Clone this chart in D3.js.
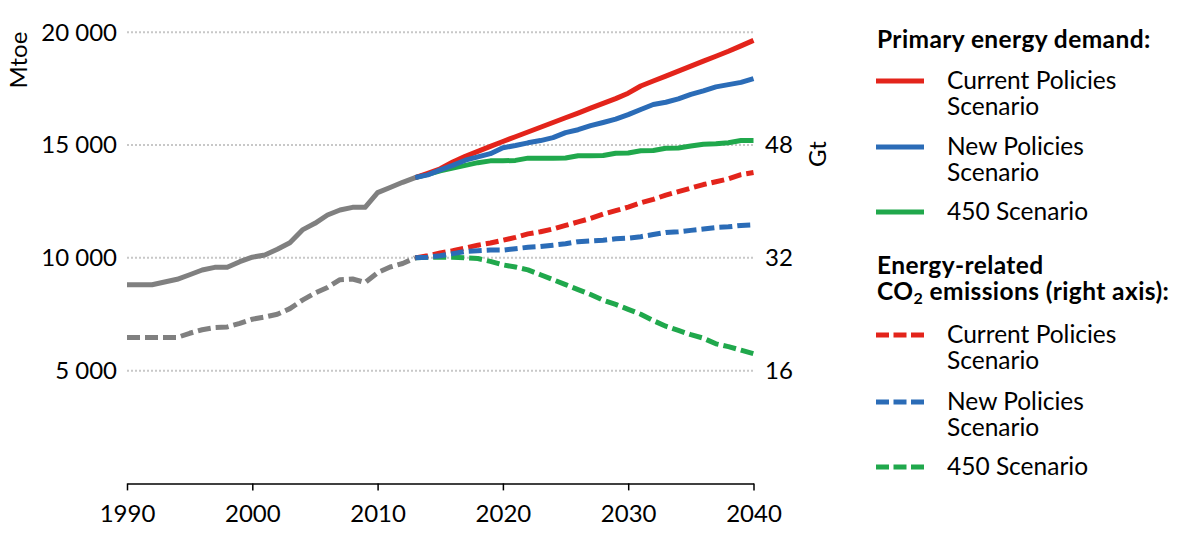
<!DOCTYPE html>
<html>
<head>
<meta charset="utf-8">
<script src="https://cdn.jsdelivr.net/npm/d3@7"></script>
<style>
  html, body { margin: 0; padding: 0; background: #fff; }
  svg { display: block; }
  text { font-family: Lato, "Open Sans", sans-serif; fill: #000; }
</style>
</head>
<body>
<svg id="chart" width="1181" height="556"></svg>
<script>
// ---------------- DATA ----------------
const histYears = [1990,1991,1992,1993,1994,1995,1996,1997,1998,1999,2000,2001,2002,2003,2004,2005,2006,2007,2008,2009,2010,2011,2012,2013];
const histDemand = [8810,8810,8810,8930,9050,9250,9460,9580,9580,9830,10030,10130,10380,10670,11240,11530,11900,12120,12240,12240,12890,13120,13350,13560];
const histCO2 = [20.7,20.7,20.7,20.7,20.7,21.3,21.8,22.1,22.2,22.7,23.3,23.6,24.0,24.8,26.0,27.0,27.8,28.9,29.0,28.5,29.9,30.7,31.2,32.0];

const projYears = [2013,2014,2015,2016,2017,2018,2019,2020,2021,2022,2023,2024,2025,2026,2027,2028,2029,2030,2031,2032,2033,2034,2035,2036,2037,2038,2039,2040];
const demandCPS = [13560,13750,13950,14250,14500,14720,14940,15160,15370,15580,15790,16000,16210,16420,16640,16850,17060,17300,17620,17840,18060,18280,18500,18720,18940,19160,19400,19640];
const demandNPS = [13560,13680,13900,14100,14330,14480,14620,14880,14980,15100,15200,15330,15550,15680,15860,16000,16150,16350,16580,16800,16900,17050,17250,17400,17580,17680,17780,17950];
const demand450 = [13560,13700,13860,13980,14100,14220,14300,14300,14320,14420,14420,14420,14430,14530,14530,14540,14640,14650,14750,14760,14860,14870,14960,15040,15060,15100,15200,15200];
const co2CPS = [32.0,32.3,32.7,33.0,33.4,33.8,34.1,34.5,34.9,35.4,35.7,36.1,36.6,37.1,37.6,38.2,38.7,39.2,39.8,40.3,40.9,41.4,41.9,42.4,42.8,43.2,43.8,44.1];
const co2NPS = [32.0,32.1,32.3,32.6,32.9,33.0,33.1,33.1,33.3,33.5,33.6,33.8,34.0,34.3,34.4,34.5,34.7,34.8,35.0,35.3,35.6,35.7,35.9,36.1,36.3,36.4,36.6,36.7];
const co2450 = [32.0,32.1,32.1,32.1,32.0,31.9,31.5,31.0,30.7,30.3,29.6,28.9,28.2,27.5,26.8,26.0,25.4,24.7,24.0,23.1,22.3,21.7,21.1,20.6,19.8,19.4,18.9,18.4];

const xTicks = [1990,2000,2010,2020,2030,2040];
const leftTicks = [5000,10000,15000,20000];
const rightTicks = [16,32,48];

const legendDemandTitle = "Primary energy demand:";
const legendCO2Title = ["Energy-related", "CO|2| emissions (right axis):"];
const scenarioNames = [["Current Policies","Scenario"],["New Policies","Scenario"],["450 Scenario"]];

// ---------------- STYLE ----------------
const colors = { cps: "#e3241b", nps: "#2b6cb7", s450: "#20a84c", hist: "#808080" };
const FS = 24;     // axis text
const LFS = 24.5;  // legend text

const svg = d3.select("#chart");
const x = d3.scaleLinear().domain([1990, 2040]).range([127, 753.5]);
const yL = d3.scaleLinear().domain([0, 20000]).range([483.4, 32.3]);
const yR = d3.scaleLinear().domain([0, 64]).range([483.4, 32.3]);
const fmt = d3.formatLocale({decimal: ".", thousands: " ", grouping: [3], currency: ["",""]}).format(",");

// gridlines
svg.append("g").selectAll("line").data(leftTicks).join("line")
  .attr("x1", x(1990)).attr("x2", x(2040))
  .attr("y1", d => yL(d)).attr("y2", d => yL(d))
  .attr("stroke", "#c8c8c8").attr("stroke-width", 2).attr("stroke-dasharray", "2,2");

// left tick labels
svg.append("g").selectAll("text").data(leftTicks).join("text")
  .attr("x", 117).attr("y", d => yL(d)).attr("dy", "0.35em")
  .attr("text-anchor", "end").attr("font-size", FS).text(d => fmt(d));

// right tick labels
svg.append("g").selectAll("text").data(rightTicks).join("text")
  .attr("x", 765).attr("y", d => yR(d)).attr("dy", "0.35em")
  .attr("font-size", FS).text(d => d);

// axis titles
svg.append("text").attr("transform", "translate(27,60) rotate(-90)")
  .attr("text-anchor", "middle").attr("font-size", FS).text("Mtoe");
svg.append("text").attr("transform", "translate(826,154) rotate(-90)")
  .attr("text-anchor", "middle").attr("font-size", FS).text("Gt");

// x axis
const xAxis = svg.append("g").attr("transform", `translate(0,${yL(0)})`)
  .call(d3.axisBottom(x).tickValues(xTicks).tickFormat(d3.format("d")).tickSize(7).tickPadding(15).tickSizeOuter(0));
xAxis.select(".domain").attr("stroke", "#000").attr("stroke-width", 1.5);
xAxis.selectAll(".tick line").attr("stroke", "#000").attr("stroke-width", 1.5);
xAxis.selectAll(".tick text").attr("font-size", FS).attr("font-family", "Lato, 'Open Sans', sans-serif").attr("fill", "#000");

// lines
const lineL = d3.line().x(d => x(d[0])).y(d => yL(d[1]));
const lineR = d3.line().x(d => x(d[0])).y(d => yR(d[1]));
const zip = (a, b) => a.map((v, i) => [v, b[i]]);
const DASH = "13,5";

const g = svg.append("g").attr("fill", "none").attr("stroke-width", 5).attr("stroke-linejoin", "round");
// historical
g.append("path").attr("d", lineR(zip(histYears, histCO2))).attr("stroke", colors.hist).attr("stroke-dasharray", DASH);
g.append("path").attr("d", lineL(zip(histYears, histDemand))).attr("stroke", colors.hist);
// CO2 projections
g.append("path").attr("d", lineR(zip(projYears, co2450))).attr("stroke", colors.s450).attr("stroke-dasharray", DASH);
g.append("path").attr("d", lineR(zip(projYears, co2CPS))).attr("stroke", colors.cps).attr("stroke-dasharray", DASH);
g.append("path").attr("d", lineR(zip(projYears, co2NPS))).attr("stroke", colors.nps).attr("stroke-dasharray", DASH);
// demand projections
g.append("path").attr("d", lineL(zip(projYears, demand450))).attr("stroke", colors.s450);
g.append("path").attr("d", lineL(zip(projYears, demandCPS))).attr("stroke", colors.cps);
g.append("path").attr("d", lineL(zip(projYears, demandNPS))).attr("stroke", colors.nps);

// ---------------- LEGEND ----------------
const lg = svg.append("g");
lg.append("text").attr("x", 877).attr("y", 48).attr("font-size", LFS).attr("font-weight", "bold")
  .attr("letter-spacing", 0.4).text(legendDemandTitle);

const legendColors = [colors.cps, colors.nps, colors.s450];
const solidY = [81, 147, 212];
const dashY = [335, 402, 467];

function legendItem(yLine, col, dashed, lines) {
  lg.append("line").attr("x1", 876).attr("x2", 924).attr("y1", yLine).attr("y2", yLine)
    .attr("stroke", col).attr("stroke-width", 5).attr("stroke-dasharray", dashed ? "13,4.5" : null);
  const t = lg.append("text").attr("x", 947).attr("y", yLine + 7.5).attr("font-size", LFS);
  lines.forEach((s, i) => t.append("tspan").attr("x", 947).attr("dy", i === 0 ? 0 : 26).text(s));
}
scenarioNames.forEach((n, i) => legendItem(solidY[i], legendColors[i], false, n));

const t2 = lg.append("text").attr("x", 877).attr("y", 274).attr("font-size", LFS).attr("font-weight", "bold")
  .attr("letter-spacing", 0.4);
t2.append("tspan").attr("x", 877).text(legendCO2Title[0]);
const parts = legendCO2Title[1].split("|");
t2.append("tspan").attr("x", 877).attr("dy", 26).text(parts[0]);
t2.append("tspan").attr("font-size", 16).attr("dy", 4).text(parts[1]);
t2.append("tspan").attr("dy", -4).text(parts[2]);

scenarioNames.forEach((n, i) => legendItem(dashY[i], legendColors[i], true, n));
</script>
</body>
</html>
